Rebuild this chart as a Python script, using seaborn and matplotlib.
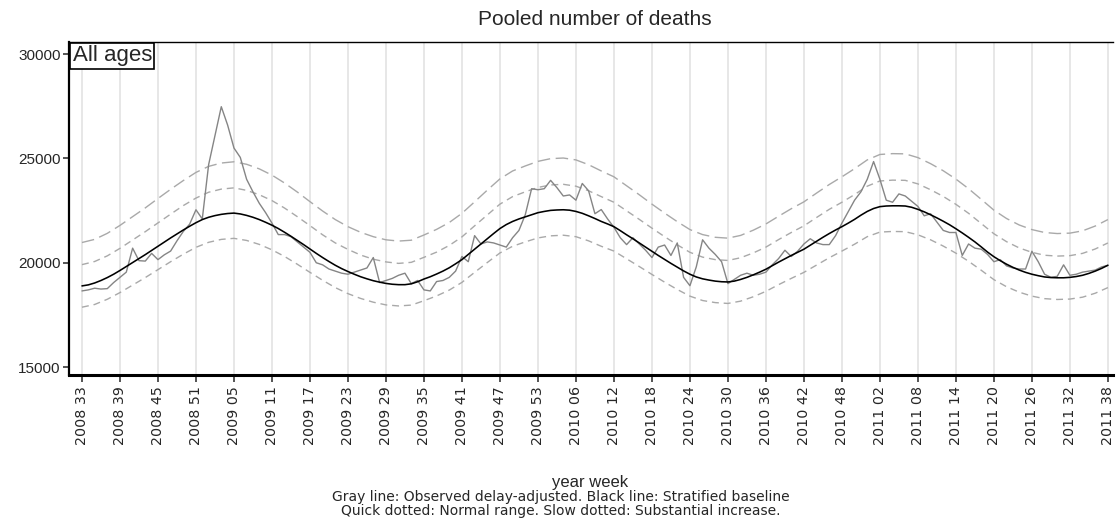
import matplotlib
matplotlib.use('Agg')
import matplotlib.pyplot as plt
import seaborn as sb
import pandas as pd
import numpy as np

# observed delay-adjusted deaths, one value per week (2008 w33 .. 2011 w38)
observed = [18650, 18700, 18780, 18740, 18760, 19050, 19300, 19550, 20700, 20100,
            20080, 20450, 20150, 20380, 20560, 21050, 21500, 21850, 22540, 22100,
            24700, 26100, 27480, 26600, 25500, 25050, 24000, 23400, 22850, 22400,
            21900, 21350, 21350, 21250, 21000, 20750, 20500, 20000, 19900, 19700,
            19600, 19500, 19450, 19550, 19650, 19750, 20250, 19050, 19150, 19250,
            19400, 19500, 19000, 19150, 18700, 18650, 19100, 19150, 19300, 19600,
            20300, 20050, 21300, 20900, 21000, 20950, 20850, 20750, 21200, 21550,
            22300, 23550, 23500, 23550, 23950, 23600, 23200, 23250, 23000, 23800,
            23450, 22350, 22550, 22100, 21700, 21200, 20870, 21200, 20900, 20600,
            20250, 20750, 20850, 20350, 20950, 19300, 18900, 19800, 21100, 20700,
            20400, 20050, 19000, 19200, 19400, 19500, 19400, 19450, 19550, 19900,
            20200, 20600, 20300, 20550, 20900, 21150, 20950, 20870, 20870, 21300,
            21900, 22450, 23000, 23400, 24000, 24850, 24000, 23000, 22900, 23300,
            23200, 22950, 22700, 22250, 22350, 21950, 21550, 21450, 21450, 20350,
            20900, 20700, 20650, 20400, 20050, 20150, 19850, 19750, 19700, 19700,
            20550, 20050, 19450, 19300, 19350, 19900, 19400, 19450, 19550, 19600,
            19650, 19800, 19880]

# stratified baseline, one value per week
baseline = [18890, 18940, 19030, 19150, 19290, 19450, 19630, 19820, 20010, 20200,
            20390, 20590, 20790, 20990, 21190, 21380, 21570, 21750, 21920, 22070,
            22180, 22260, 22320, 22360, 22380, 22340, 22270, 22180, 22070, 21940,
            21800, 21640, 21460, 21270, 21070, 20870, 20660, 20450, 20250, 20060,
            19880, 19720, 19580, 19450, 19330, 19230, 19140, 19070, 19010, 18970,
            18950, 18950, 18990, 19090, 19220, 19330, 19460, 19600, 19760, 19950,
            20150, 20400, 20650, 20900, 21150, 21400, 21640, 21830, 21980, 22100,
            22200, 22300, 22400, 22460, 22510, 22530, 22540, 22520, 22460, 22370,
            22250, 22120, 21980, 21860, 21730, 21540, 21340, 21150, 20950, 20750,
            20550, 20350, 20160, 19970, 19790, 19610, 19450, 19320, 19230, 19170,
            19120, 19090, 19080, 19120, 19200, 19300, 19420, 19550, 19690, 19860,
            20030, 20190, 20350, 20500, 20650, 20840, 21030, 21220, 21400, 21570,
            21730, 21900, 22080, 22280, 22460, 22600, 22690, 22720, 22730, 22730,
            22720, 22660, 22560, 22440, 22300, 22150, 21990, 21820, 21630, 21430,
            21220, 21000, 20760, 20510, 20290, 20100, 19930, 19780, 19650, 19540,
            19450, 19380, 19320, 19290, 19280, 19280, 19300, 19340, 19400, 19490,
            19600, 19730, 19880]

# limits, read every second week
substantial_up = [20970, 21120, 21410, 21790, 22210, 22630, 23080, 23520, 23940, 24330,
                  24620, 24780, 24840, 24720, 24500, 24200, 23820, 23390, 22930, 22480,
                  22070, 21730, 21460, 21250, 21100, 21040, 21080, 21330, 21600, 21930,
                  22370, 22920, 23480, 24020, 24400, 24640, 24860, 24990, 25020, 24930,
                  24700, 24400, 24120, 23690, 23260, 22810, 22380, 21970, 21590, 21350,
                  21220, 21180, 21310, 21560, 21860, 22230, 22590, 22920, 23340, 23750,
                  24120, 24510, 24930, 25190, 25230, 25220, 25040, 24750, 24410, 24010,
                  23550, 23040, 22520, 22120, 21810, 21590, 21450, 21400, 21420, 21530,
                  21760, 22070]
normal_up = [19910, 20060, 20330, 20690, 21090, 21490, 21910, 22330, 22740, 23100,
             23380, 23530, 23590, 23470, 23260, 22980, 22620, 22210, 21780, 21340,
             20950, 20640, 20370, 20170, 20040, 19970, 20020, 20260, 20510, 20830,
             21240, 21770, 22290, 22810, 23170, 23400, 23610, 23730, 23760, 23670,
             23450, 23170, 22900, 22490, 22080, 21660, 21250, 20860, 20500, 20270,
             20150, 20110, 20240, 20470, 20750, 21110, 21450, 21770, 22170, 22560,
             22900, 23270, 23670, 23920, 23960, 23950, 23780, 23500, 23180, 22800,
             22370, 21880, 21390, 21010, 20710, 20500, 20360, 20320, 20340, 20450,
             20660, 20950]
normal_low = [17870, 18000, 18250, 18570, 18930, 19290, 19670, 20050, 20410, 20740,
              20980, 21120, 21170, 21070, 20880, 20620, 20300, 19930, 19540, 19160,
              18810, 18520, 18290, 18110, 17980, 17930, 17970, 18180, 18410, 18690,
              19060, 19540, 20010, 20470, 20790, 21000, 21190, 21290, 21320, 21250,
              21050, 20790, 20560, 20190, 19820, 19440, 19070, 18720, 18400, 18190,
              18090, 18050, 18160, 18370, 18630, 18950, 19250, 19540, 19890, 20240,
              20560, 20890, 21250, 21470, 21500, 21490, 21340, 21100, 20800, 20460,
              20070, 19640, 19190, 18850, 18590, 18400, 18280, 18240, 18260, 18350,
              18540, 18810]

tick_labels = ['2008 33', '2008 39', '2008 45', '2008 51', '2009 05', '2009 11', '2009 17',
               '2009 23', '2009 29', '2009 35', '2009 41', '2009 47', '2009 53', '2010 06',
               '2010 12', '2010 18', '2010 24', '2010 30', '2010 36', '2010 42', '2010 48',
               '2011 02', '2011 08', '2011 14', '2011 20', '2011 26', '2011 32', '2011 38']

weeks = np.arange(len(observed))
data = pd.DataFrame({'week': weeks, 'observed': observed, 'baseline': baseline})
limits = pd.DataFrame({'week': weeks[::2], 'sub_up': substantial_up,
                       'norm_up': normal_up, 'norm_low': normal_low})

sb.set_style('white')
plt.rcParams['font.family'] = ['Liberation Sans', 'DejaVu Sans']

fig, ax = plt.subplots(figsize=(11.18, 5.22), dpi=100)
fig.subplots_adjust(left=0.0617, right=0.9955, top=0.9195, bottom=0.2816)

dash_col = '#a9a9a9'
sb.lineplot(x='week', y='sub_up', data=limits, ax=ax, color=dash_col, lw=1.0,
            linestyle=(0, (9, 4)))
sb.lineplot(x='week', y='norm_up', data=limits, ax=ax, color=dash_col, lw=1.0,
            linestyle=(0, (5, 3.5)))
sb.lineplot(x='week', y='norm_low', data=limits, ax=ax, color=dash_col, lw=1.0,
            linestyle=(0, (5, 3.5)))
sb.lineplot(x='week', y='observed', data=data, ax=ax, color='#858585', lw=1.0)
sb.lineplot(x='week', y='baseline', data=data, ax=ax, color='black', lw=1.15)

ax.set_xlim(-2.05, 162.8)
ax.set_ylim(14620, 30580)
ax.set_xticks(weeks[::6])
ax.set_xticklabels(tick_labels, rotation=90, family='DejaVu Sans', fontsize=10.3)
ax.set_yticks([15000, 20000, 25000, 30000])
ax.tick_params(axis='y', labelsize=11, length=4, width=1.1, direction='out', left=True, pad=2)
ax.tick_params(axis='x', length=5, width=1.1, direction='out', bottom=True, pad=3)
ax.grid(axis='x', color='#e0e0e0', lw=1.1)
ax.set_axisbelow(True)
ax.set_xlabel('')
ax.set_ylabel('')

ax.spines['right'].set_visible(False)
ax.spines['top'].set_linewidth(1.0)
ax.spines['left'].set_linewidth(1.6)
ax.spines['bottom'].set_linewidth(2.2)
for side in ['top', 'left', 'bottom']:
    ax.spines[side].set_color('black')

ax.text(0.0035, 0.99, 'All ages', transform=ax.transAxes, ha='left', va='top', fontsize=16,
        bbox=dict(boxstyle='square,pad=0.1', fc='white', ec='black', lw=1.2))

fig.text(0.532, 0.962, 'Pooled number of deaths', ha='center', va='center', fontsize=15)
fig.text(0.528, 1 - 483 / 522, 'year week', ha='center', va='center', fontsize=12)
fig.text(0.502, 1 - 497 / 522, 'Gray line: Observed delay-adjusted. Black line: Stratified baseline',
         ha='center', va='center', fontsize=10, family='DejaVu Sans')
fig.text(0.502, 1 - 511 / 522, 'Quick dotted: Normal range. Slow dotted: Substantial increase.',
         ha='center', va='center', fontsize=10, family='DejaVu Sans')

plt.savefig('out.png', dpi=100)
